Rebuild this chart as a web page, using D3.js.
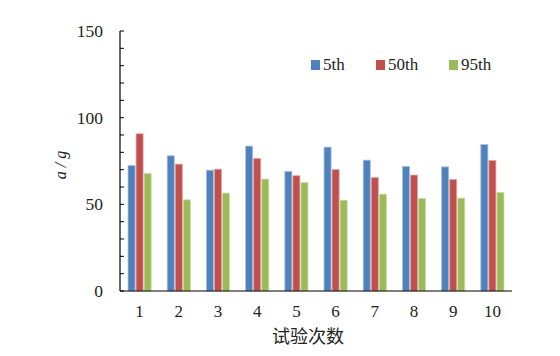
<!DOCTYPE html>
<html>
<head>
<meta charset="utf-8">
<script src="https://cdn.jsdelivr.net/npm/d3@7"></script>
<style>
  html, body { margin: 0; padding: 0; background: #fff; }
  svg { display: block; }
  .serif { font-family: "Times New Roman", "Liberation Serif", Tinos, "DejaVu Serif", serif; }
</style>
</head>
<body>
<svg id="chart" width="560" height="356"></svg>
<script>
const categories = ["1", "2", "3", "4", "5", "6", "7", "8", "9", "10"];
const seriesNames = ["5th", "50th", "95th"];
const values5th  = [72.4, 78.0, 69.7, 83.6, 69.0, 83.0, 75.5, 71.9, 71.6, 84.5];
const values50th = [90.7, 73.2, 70.3, 76.5, 66.5, 70.1, 65.5, 66.9, 64.4, 75.3];
const values95th = [67.8, 52.6, 56.5, 64.6, 62.6, 52.4, 55.9, 53.4, 53.6, 56.9];
const yMajorTicks = [0, 50, 100, 150];
const yMinorTicks = [10, 20, 30, 40, 60, 70, 80, 90, 110, 120, 130, 140];
const colors = ["#4F81BD", "#C0504D", "#9BBB59"];
const edgeColors = ["#a9c1de", "#e0a8a6", "#cddcac"];

const allSeries = [values5th, values50th, values95th];
const svg = d3.select("#chart");
const mLeft = 120, mRight = 512, mTop = 31, mBottom = 291;

const x = d3.scaleBand().domain(categories).range([mLeft, mRight]).paddingInner(0.36).paddingOuter(0.18);
const xs = d3.scaleBand().domain(seriesNames).range([0, x.bandwidth()]).padding(0.12);
const y = d3.scaleLinear().domain([0, 150]).range([mBottom, mTop]);

// bars
const groups = svg.append("g").selectAll("g")
  .data(categories).join("g")
  .attr("transform", d => `translate(${x(d)},0)`);
groups.selectAll("rect")
  .data((d, i) => seriesNames.map((s, k) => ({ s, k, v: allSeries[k][i] })))
  .join("rect")
  .attr("x", d => xs(d.s))
  .attr("y", d => y(d.v))
  .attr("width", xs.bandwidth())
  .attr("height", d => y(0) - y(d.v))
  .attr("fill", d => colors[d.k])
  .attr("stroke", d => edgeColors[d.k])
  .attr("stroke-width", 0.8);

// y axis
const yAxis = svg.append("g").attr("transform", `translate(${mLeft},0)`);
yAxis.append("line").attr("x1", 0).attr("x2", 0).attr("y1", y(150)).attr("y2", y(0))
  .attr("stroke", "#000").attr("stroke-width", 1.2);
yAxis.selectAll("line.tick")
  .data(yMajorTicks.concat(yMinorTicks)).join("line")
  .attr("class", "tick")
  .attr("x1", 0).attr("x2", 4)
  .attr("y1", d => y(d)).attr("y2", d => y(d))
  .attr("stroke", "#000").attr("stroke-width", 1);
yAxis.selectAll("text")
  .data(yMajorTicks).join("text")
  .attr("class", "serif")
  .attr("x", -17).attr("y", d => y(d)).attr("dy", "0.35em")
  .attr("text-anchor", "end")
  .attr("font-size", 17.5).attr("fill", "#222")
  .text(d => d);

// x axis
svg.append("line").attr("x1", mLeft).attr("x2", mRight).attr("y1", mBottom).attr("y2", mBottom)
  .attr("stroke", "#000").attr("stroke-width", 1.2);
svg.append("g").selectAll("text")
  .data(categories).join("text")
  .attr("class", "serif")
  .attr("x", d => x(d) + x.bandwidth() / 2)
  .attr("y", 317)
  .attr("text-anchor", "middle")
  .attr("font-size", 17).attr("fill", "#222")
  .text(d => d);

// axis titles
svg.append("text")
  .attr("x", 308).attr("y", 343)
  .attr("text-anchor", "middle")
  .attr("font-family", "Noto Sans CJK SC, sans-serif").attr("font-size", 18).attr("fill", "#222")
  .text("试验次数");
svg.append("text")
  .attr("class", "serif")
  .attr("transform", "translate(66,165) rotate(-90)")
  .attr("text-anchor", "middle")
  .attr("font-style", "italic").attr("font-size", 16).attr("fill", "#222")
  .text("a / g");

// legend
const legendX = [311, 376, 449];
const legend = svg.append("g").selectAll("g")
  .data(seriesNames).join("g")
  .attr("transform", (d, i) => `translate(${legendX[i]},60)`);
legend.append("rect").attr("width", 9).attr("height", 10).attr("fill", (d, i) => colors[i]);
legend.append("text").attr("class", "serif").attr("x", 12).attr("y", 10)
  .attr("font-size", 17).attr("fill", "#222")
  .text(d => d);
</script>
</body>
</html>
